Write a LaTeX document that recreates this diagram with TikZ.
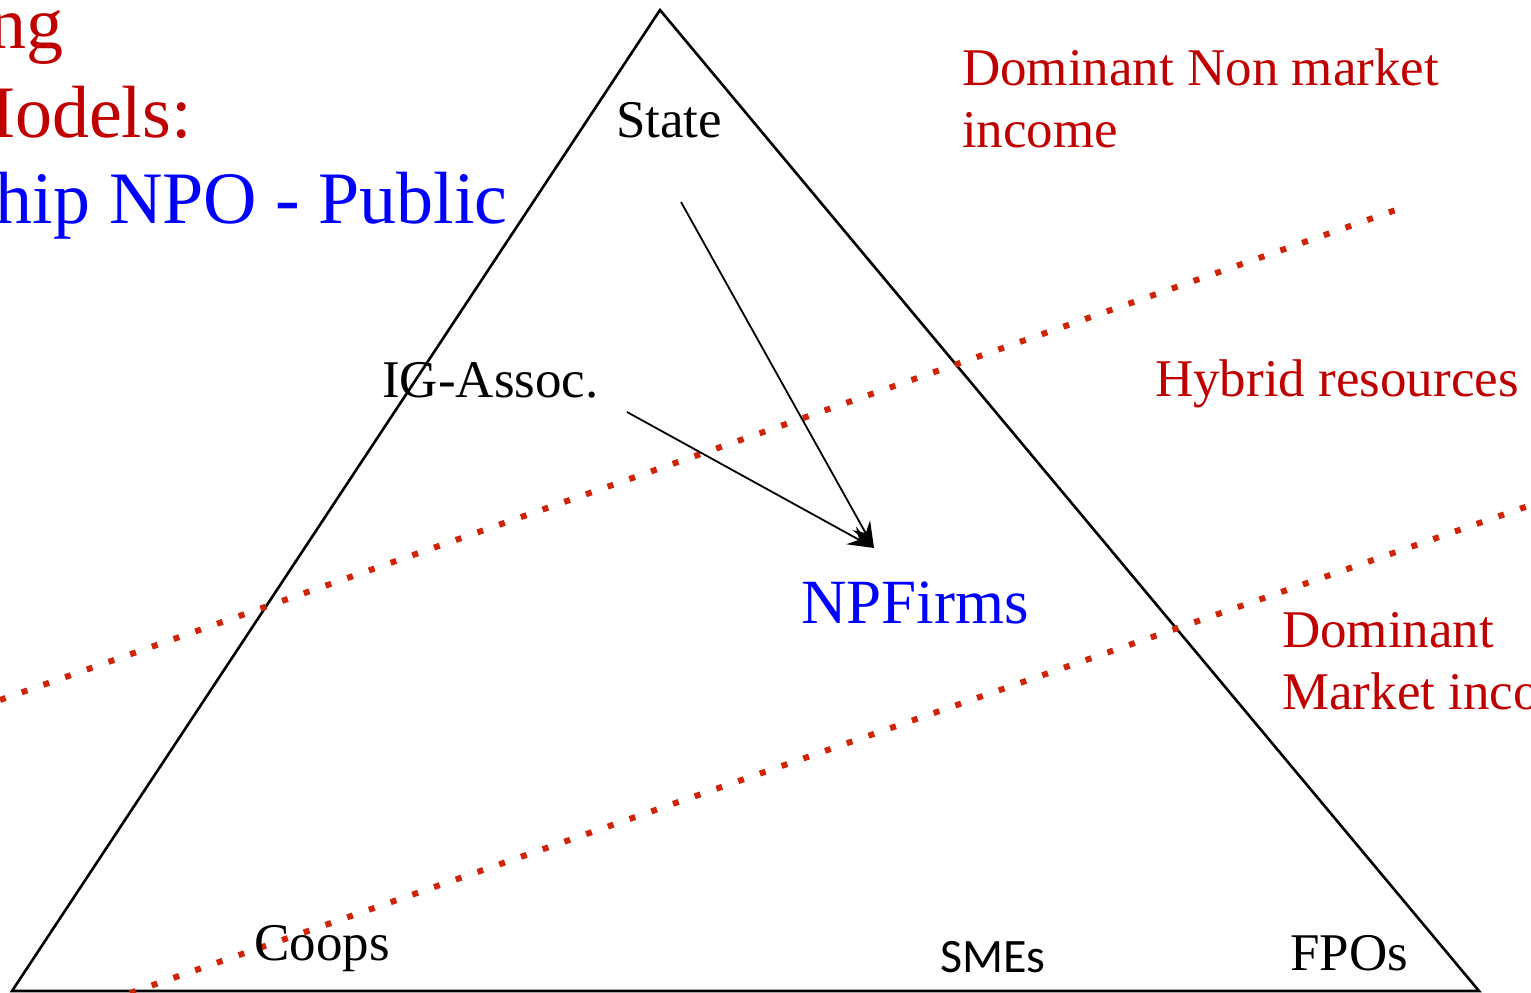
\documentclass[tikz,border=0pt]{standalone}
\usepackage{fontspec}
\setmainfont{Liberation Serif}
\newfontfamily\calfont{Carlito}
\usetikzlibrary{arrows.meta}
\definecolor{darkred}{RGB}{192,0,0}
\definecolor{dotred}{RGB}{208,36,8}
\tikzset{
  lbl/.style={inner sep=0pt, anchor=base west, font=\fontsize{53}{62}\selectfont},
  band/.style={line width=6pt, dotred, dash pattern=on 6pt off 17pt},
  flow/.style={line width=1.8pt, -{Stealth[length=26pt,width=20pt,inset=9pt]}}
}
\begin{document}
\begin{tikzpicture}[x=1pt,y=-1pt]
  \useasboundingbox (0,0) rectangle (1531,993);

  % Title, cut at the left edge
  \node (titleA) [lbl, anchor=base east, darkred, font=\fontsize{74}{86}\selectfont] at (64,48) {ng};
  \node (titleB) [lbl, anchor=base east, darkred, font=\fontsize{74}{86}\selectfont] at (192,137) {Models:};
  \node (titleC) [lbl, anchor=base east, blue, font=\fontsize{74}{86}\selectfont] at (508,223) {hip NPO - Public};

  % Triangle
  \coordinate (top) at (660,10);
  \coordinate (left) at (12,991);
  \coordinate (right) at (1479,991);
  \draw [line width=2.6pt, line join=miter] (top) -- (left) -- (right) -- cycle;

  % Dotted band borders
  \coordinate (upA) at (0,700);
  \coordinate (upB) at (1410,205);
  \coordinate (loA) at (130,993);
  \coordinate (loB) at (1531,505);
  \draw [band] (upA) -- (upB);
  \draw [band] (loA) -- (loB);

  % Band labels (base = last line)
  \node (nonmarket) [lbl, darkred, align=left] at (962,147) {Dominant Non market\\income};
  \node (hybrid) [lbl, darkred] at (1155,396) {Hybrid resources};
  \node (market) [lbl, darkred, align=left] at (1282,709) {Dominant\\Market income};

  % Organisations
  \node (state) [lbl] at (616,137) {State};
  \node (igassoc) [lbl] at (382,397) {IG-Assoc.};
  \node (npfirms) [lbl, blue, font=\fontsize{63}{74}\selectfont] at (801,623) {NPFirms};
  \node (coops) [lbl] at (254,960) {Coops};
  \node (smes) [lbl, font=\calfont\fontsize{48}{56}\selectfont] at (940,972) {SMEs};
  \node (fpos) [lbl] at (1290,970) {FPOs};

  % Arrows into NPFirms
  \coordinate (stateout) at (681,202);
  \coordinate (igout) at (627,412);
  \coordinate (npin) at (874,548);
  \draw [flow] (stateout) -- (npin);
  \draw [flow] (igout) -- (npin);
\end{tikzpicture}
\end{document}
